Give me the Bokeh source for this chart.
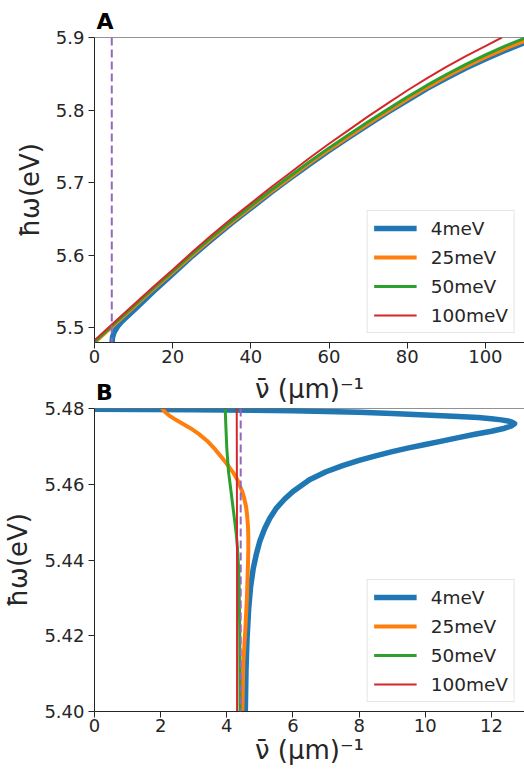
from bokeh.plotting import figure
from bokeh.models import Span, FixedTicker, Legend, LegendItem, LinearAxis, PrintfTickFormatter
from bokeh.layouts import column
from bokeh.embed import file_html
from bokeh.resources import INLINE

series_labels = ["4meV", "25meV", "50meV", "100meV"]
series_colors = ["#1f77b4", "#ff7f0e", "#2ca02c", "#d62728"]
series_widths = [5.5, 4, 3, 2]
nu_res = 4.42  # dashed reference line position (μm^-1)

# ---------- Panel A (upper branch) ----------
a_x_4 = [4.5, 4.55, 4.6, 5.0, 6.0, 7.0, 8.0, 10, 15, 20, 25, 30, 35, 40, 45, 50, 55, 60, 65, 70,
         75, 80, 85, 90, 95, 100, 105, 110]
a_y_4 = [5.480, 5.484, 5.487, 5.494, 5.503, 5.509, 5.514, 5.524, 5.550, 5.5745, 5.599, 5.622, 5.644,
         5.665, 5.686, 5.706, 5.7255, 5.7445, 5.7625, 5.780, 5.797, 5.8135, 5.8295, 5.844, 5.858,
         5.8705, 5.882, 5.893]
a_x_25 = [0, 5, 10, 15, 20, 25, 30, 35, 40, 45, 50, 55, 60, 65, 70, 75, 80, 85, 90, 95, 100, 105, 110]
a_y_25 = [5.480, 5.5045, 5.529, 5.5535, 5.5768, 5.6006, 5.6235, 5.6454, 5.6663, 5.6872, 5.707, 5.7269,
          5.7458, 5.7637, 5.7816, 5.7985, 5.8154, 5.8313, 5.8462, 5.860, 5.8728, 5.8846, 5.8954]
a_x_50 = [0, 5, 10, 15, 20, 25, 30, 35, 40, 45, 50, 55, 60, 65, 70, 75, 80, 85, 90, 95, 100, 105, 110]
a_y_50 = [5.481, 5.5055, 5.530, 5.5545, 5.578, 5.602, 5.625, 5.647, 5.668, 5.689, 5.709, 5.729, 5.748,
          5.766, 5.784, 5.801, 5.818, 5.834, 5.849, 5.863, 5.876, 5.888, 5.899]
a_x_100 = [0, 5, 10, 15, 20, 25, 30, 35, 40, 45, 50, 55, 60, 65, 70, 75, 80, 85, 90, 95, 100, 104.2]
a_y_100 = [5.483, 5.5075, 5.532, 5.5565, 5.5802, 5.6045, 5.628, 5.6503, 5.6716, 5.693, 5.7135, 5.734,
           5.7537, 5.7725, 5.7913, 5.8092, 5.827, 5.8438, 5.8596, 5.8744, 5.8882, 5.900]

# ---------- Panel B (lower branch) ----------
b_x_4 = [0, 3, 6, 8, 9, 10, 11, 11.6, 12.0, 12.3, 12.5, 12.62, 12.70,
         12.60, 12.40, 12.0, 11.5, 11.0, 10.5, 10.0, 9.5, 9.0, 8.5, 8.0, 7.5, 7.0, 6.5, 6.0,
         5.75, 5.50, 5.30, 5.15, 5.00, 4.90, 4.80, 4.72, 4.66, 4.61, 4.58, 4.56]
b_y_4 = [5.4798, 5.4797, 5.4794, 5.4790, 5.4787, 5.4783, 5.4779, 5.4776, 5.4773, 5.4770, 5.4767,
         5.4764, 5.4760,
         5.4754, 5.4748, 5.4740, 5.4732, 5.4723, 5.4714, 5.4705, 5.4696, 5.4686, 5.4675, 5.4663,
         5.4649, 5.4633, 5.4612, 5.4581, 5.4561, 5.4537, 5.4510, 5.4484, 5.4450, 5.4418, 5.4378,
         5.4330, 5.4270, 5.4190, 5.4110, 5.4000]
b_x_25 = [2.04, 2.08, 2.14, 2.25, 2.39, 2.60, 2.90, 3.15, 3.40, 3.65, 3.90, 4.05, 4.20, 4.32, 4.40,
          4.47, 4.52, 4.58, 4.61, 4.64, 4.65, 4.65, 4.64, 4.61, 4.56, 4.50, 4.47]
b_y_25 = [5.4800, 5.4796, 5.4790, 5.4782, 5.4774, 5.4763, 5.4748, 5.4733, 5.4715, 5.4692, 5.4665,
          5.4648, 5.4630, 5.4612, 5.4595, 5.4580, 5.4565, 5.4542, 5.4521, 5.4490, 5.4460, 5.4425,
          5.4390, 5.4303, 5.4216, 5.4129, 5.4000]
b_x_50 = [3.95, 3.96, 3.97, 3.985, 4.00, 4.025, 4.05, 4.10, 4.15, 4.20, 4.25, 4.29, 4.32, 4.35,
          4.37, 4.39, 4.40]
b_y_50 = [5.4800, 5.4780, 5.4756, 5.4725, 5.4695, 5.4665, 5.4634, 5.4600, 5.4565, 5.4530, 5.4495,
          5.4465, 5.4434, 5.4390, 5.4347, 5.4216, 5.4000]
b_x_100 = [4.30, 4.31, 4.31]
b_y_100 = [5.4800, 5.4400, 5.4000]

a_xticks = [0, 20, 40, 60, 80, 100]
a_yticks = [5.5, 5.6, 5.7, 5.8, 5.9]
b_xticks = [0, 2, 4, 6, 8, 10, 12]
b_yticks = [5.40, 5.42, 5.44, 5.46, 5.48]
panel_letters = ["A", "B"]
letter_pos_a = 2.7   # x (data) where panel letter A is centred
letter_pos_b = 0.3   # x (data) where panel letter B is centred

FONT = "DejaVu Sans"
DARK = "#262626"
XLABEL = "ν̄ (μm)⁻¹"
YLABEL = "ħω(eV)"


def style(p, xticks, yticks, yfmt):
    p.outline_line_color = None
    p.grid.visible = False
    p.xaxis.ticker = FixedTicker(ticks=xticks)
    p.yaxis.ticker = FixedTicker(ticks=yticks)
    p.yaxis.formatter = PrintfTickFormatter(format=yfmt)
    for ax in (p.xaxis, p.yaxis):
        ax.axis_line_color = DARK
        ax.axis_line_width = 1
        ax.major_tick_line_color = DARK
        ax.major_tick_out = 6
        ax.major_tick_in = 0
        ax.minor_tick_line_color = None
        ax.major_label_text_font = FONT
        ax.major_label_text_font_size = "18px"
        ax.major_label_text_color = DARK
        ax.axis_label_text_font = FONT
        ax.axis_label_text_font_size = "26px"
        ax.axis_label_text_font_style = "normal"
        ax.axis_label_text_color = DARK
    p.xaxis.major_label_standoff = 1
    p.xaxis.axis_label_standoff = 0
    p.yaxis.major_label_standoff = 4
    p.yaxis.axis_label_standoff = 8
    p.yaxis.axis_label = YLABEL
    p.add_layout(Span(location=p.y_range.end, dimension="width", line_color=DARK, line_width=1))
    p.add_layout(Span(location=nu_res, dimension="height", line_color="#9467bd",
                      line_width=2, line_dash="8 4"))


def letter_axis(pos, letter, label=None, label_standoff=0):
    ax = LinearAxis(ticker=FixedTicker(ticks=[pos]), major_label_overrides={pos: letter})
    ax.axis_line_color = None
    ax.major_tick_line_color = None
    ax.minor_tick_line_color = None
    ax.major_tick_out = 0
    ax.major_tick_in = 0
    ax.major_label_standoff = 4
    ax.major_label_text_font = FONT
    ax.major_label_text_font_size = "22px"
    ax.major_label_text_font_style = "bold"
    ax.major_label_text_color = "black"
    if label is not None:
        ax.axis_label = label
        ax.axis_label_text_font = FONT
        ax.axis_label_text_font_size = "26px"
        ax.axis_label_text_font_style = "normal"
        ax.axis_label_text_color = DARK
        ax.axis_label_standoff = label_standoff
    return ax


def add_series(p, xs, ys):
    items = []
    for x, y, lab, c, w in zip(xs, ys, series_labels, series_colors, series_widths):
        r = p.line(x, y, line_color=c, line_width=w, line_join="round")
        items.append(LegendItem(label=lab, renderers=[r]))
    leg = Legend(items=items, location="bottom_right")
    leg.label_text_font = FONT
    leg.label_text_font_size = "18.5px"
    leg.label_text_color = DARK
    leg.glyph_width = 43
    leg.glyph_height = 22
    leg.label_height = 22
    leg.spacing = 7
    leg.padding = 6
    leg.margin = 9
    leg.label_standoff = 14
    leg.border_line_color = "#cccccc"
    leg.border_line_width = 1
    leg.background_fill_alpha = 0.85
    p.add_layout(leg)


pa = figure(width=524, height=370, x_range=(0, 110), y_range=(5.48, 5.9),
            output_backend="svg", toolbar_location=None,
            min_border_left=94, min_border_right=0, min_border_top=37, min_border_bottom=28)
add_series(pa, [a_x_4, a_x_25, a_x_50, a_x_100], [a_y_4, a_y_25, a_y_50, a_y_100])
style(pa, a_xticks, a_yticks, "%.1f")
pa.add_layout(letter_axis(letter_pos_a, panel_letters[0]), "above")

pb = figure(width=524, height=403, x_range=(0, 13), y_range=(5.40, 5.48),
            output_backend="svg", toolbar_location=None,
            min_border_left=94, min_border_right=0, min_border_top=34, min_border_bottom=62)
add_series(pb, [b_x_4, b_x_25, b_x_50, b_x_100], [b_y_4, b_y_25, b_y_50, b_y_100])
style(pb, b_xticks, b_yticks, "%.2f")
pb.xaxis.axis_label = XLABEL
# panel letter B plus panel A's x-axis title, both sitting just above panel B
pb.add_layout(letter_axis(letter_pos_b, panel_letters[1], XLABEL, -27), "above")

layout = column(pa, pb, spacing=0)
open("out.html", "w").write(file_html(layout, INLINE))
